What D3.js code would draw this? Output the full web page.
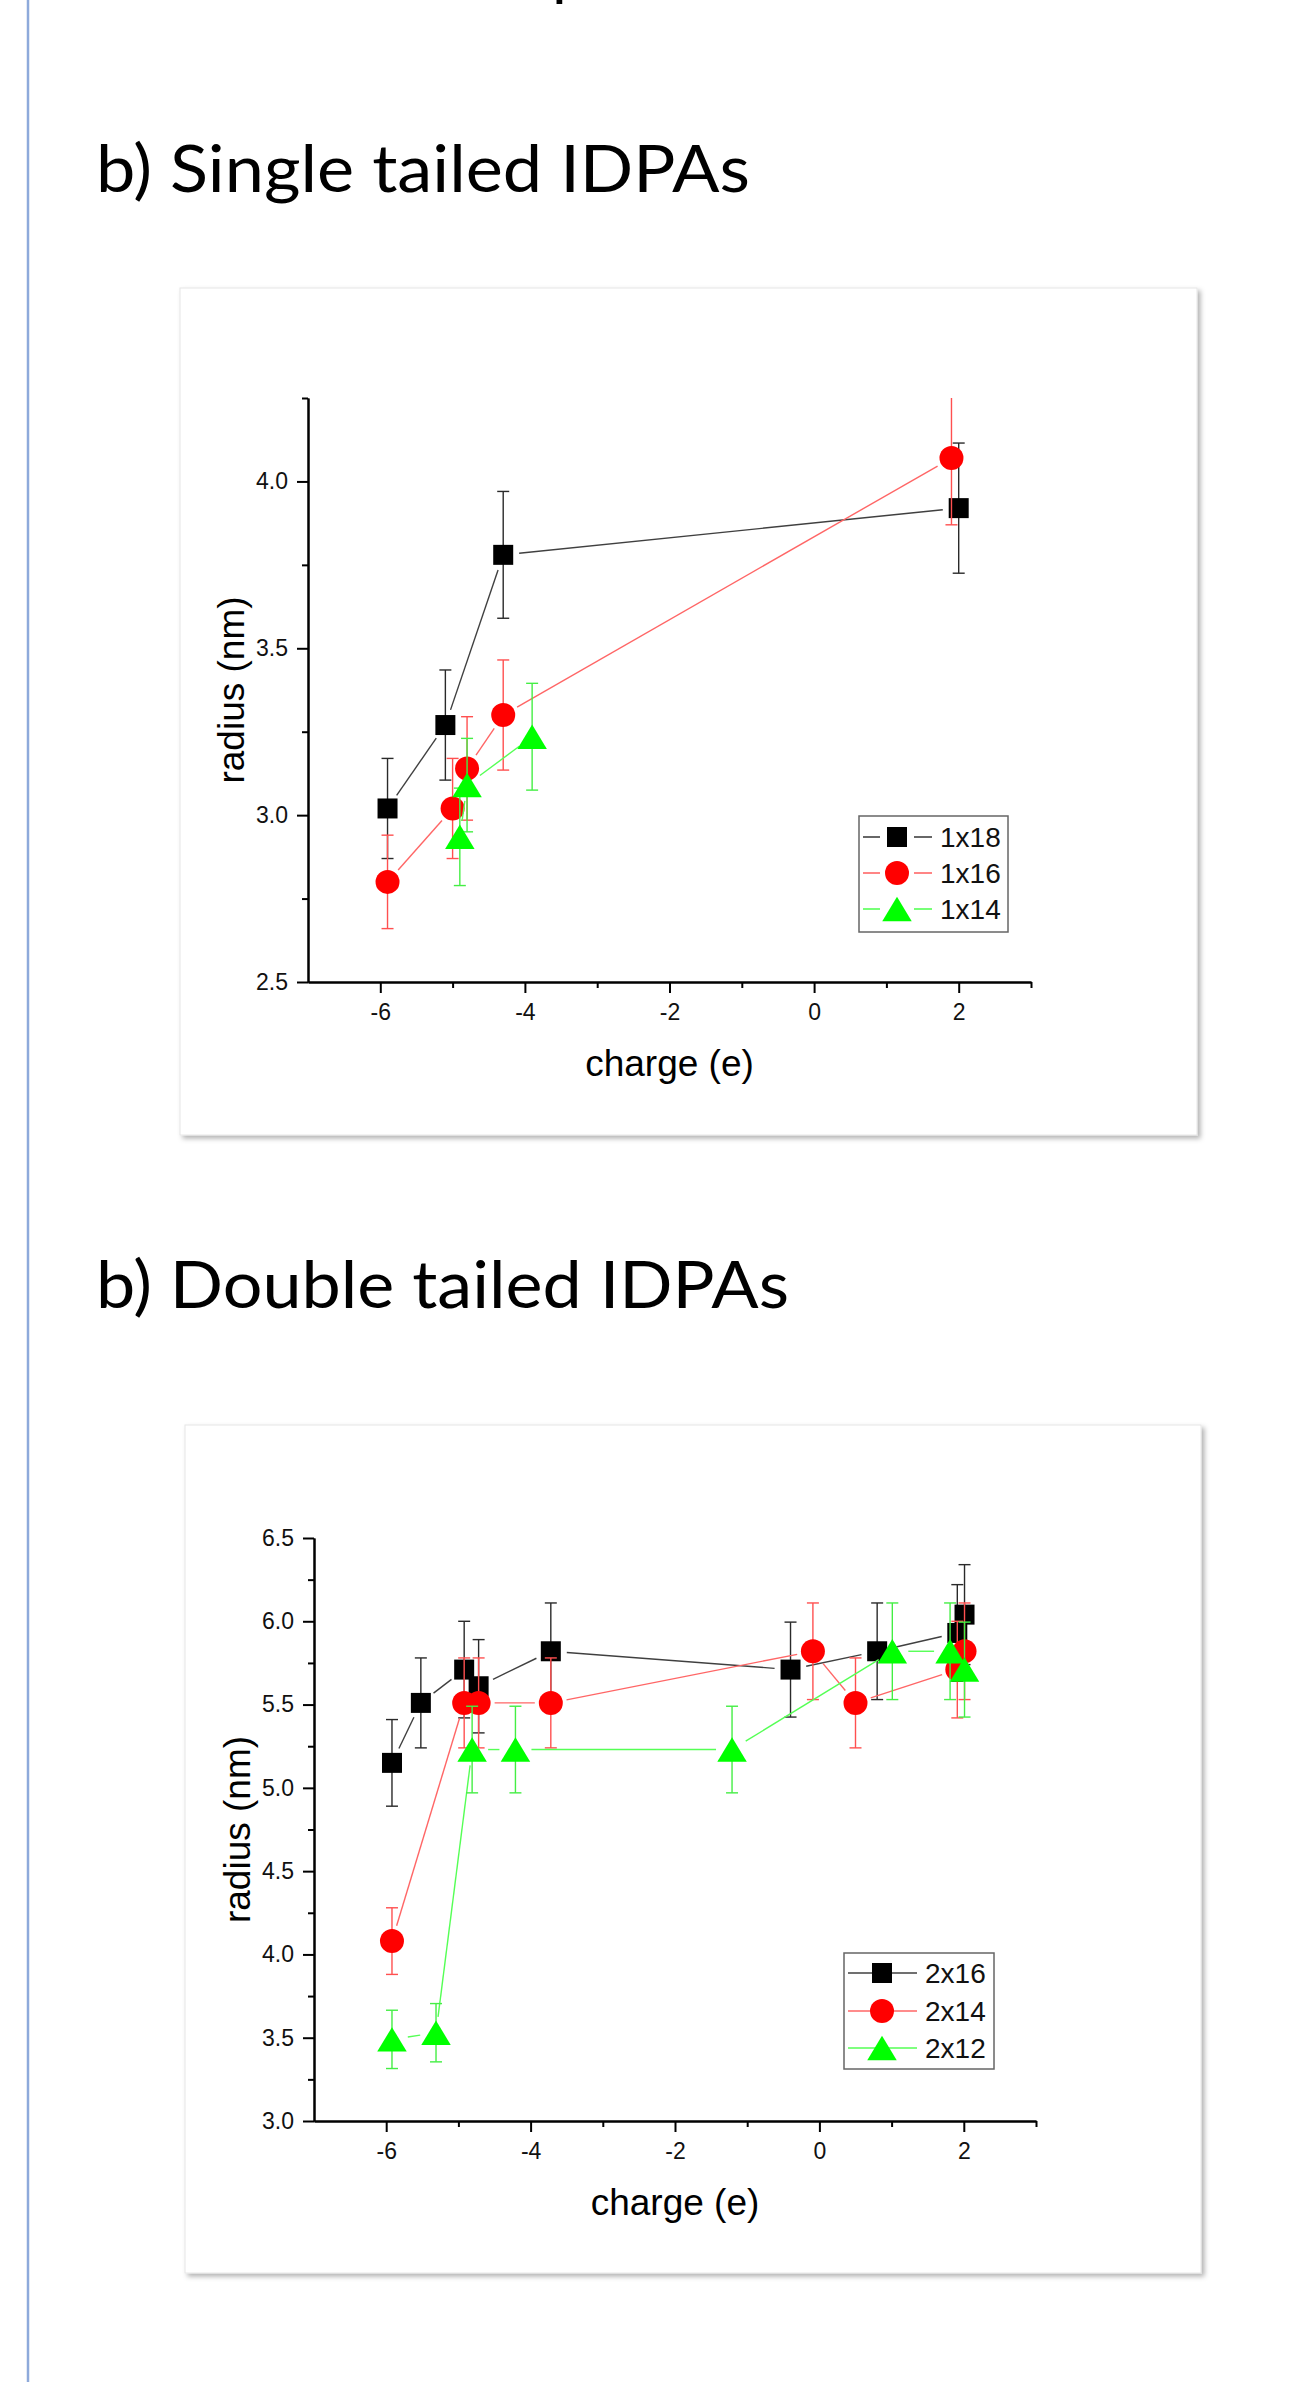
<!DOCTYPE html>
<html>
<head>
<meta charset="utf-8">
<script src="https://cdn.jsdelivr.net/npm/d3@7"></script>
<style>
  body { margin: 0; background: #fff; }
  svg { display: block; }
</style>
</head>
<body>
<svg id="page" width="1305" height="2382"></svg>
<script>
// ---- data: single tailed IDPAs ----
const s18Charge = [-5.9, -5.1, -4.3, 2.0];
const s18Radius = [3.02, 3.27, 3.78, 3.92];
const s18Err    = [0.15, 0.165, 0.19, 0.195];

const s16Charge = [-5.9, -5.0, -4.8, -4.3, 1.9];
const s16Radius = [2.80, 3.02, 3.14, 3.30, 4.07];
const s16Err    = [0.14, 0.15, 0.155, 0.165, 0.2];

const s14Charge = [-4.9, -4.8, -3.9];
const s14Radius = [2.935, 3.09, 3.235];
const s14Err    = [0.146, 0.14, 0.16];

// ---- data: double tailed IDPAs ----
const d16Charge = [-5.92, -5.52, -4.92, -4.72, -3.72, -0.40, 0.80, 1.91, 2.01];
const d16Radius = [5.15, 5.51, 5.71, 5.61, 5.82, 5.71, 5.82, 5.93, 6.04];
const d16Err    = [0.26, 0.27, 0.29, 0.28, 0.29, 0.285, 0.29, 0.29, 0.30];

const d14Charge = [-5.92, -4.92, -4.72, -3.72, -0.09, 0.50, 1.91, 2.01];
const d14Radius = [4.08, 5.51, 5.51, 5.51, 5.82, 5.51, 5.71, 5.82];
const d14Err    = [0.20, 0.27, 0.27, 0.27, 0.29, 0.27, 0.29, 0.29];

const d12Charge = [-5.92, -5.31, -4.81, -4.21, -1.21, 1.01, 1.81, 2.01];
const d12Radius = [3.49, 3.53, 5.23, 5.23, 5.23, 5.82, 5.82, 5.71];
const d12Err    = [0.175, 0.175, 0.26, 0.26, 0.26, 0.29, 0.29, 0.285];

// ---- ticks and labels ----
const xTicks = [-6, -4, -2, 0, 2];
const xMinorTicks = [-5, -3, -1, 1, 3];
const singleYTicks = [2.5, 3.0, 3.5, 4.0];
const singleYMinor = [2.75, 3.25, 3.75, 4.25];
const doubleYTicks = [3.0, 3.5, 4.0, 4.5, 5.0, 5.5, 6.0, 6.5];
const doubleYMinor = [3.25, 3.75, 4.25, 4.75, 5.25, 5.75, 6.25];
const singleNames = ["1x18", "1x16", "1x14"];
const doubleNames = ["2x16", "2x14", "2x12"];

const FONT = "'Liberation Sans', Arial, sans-serif";

// triangle centred on its bounding box (like Origin's), not its centroid
const symbolBoxTriangle = {
  draw(ctx, size) {
    const w = Math.sqrt(size), h = w * 0.83;
    ctx.moveTo(0, -h / 2);
    ctx.lineTo(w / 2, h / 2);
    ctx.lineTo(-w / 2, h / 2);
    ctx.closePath();
  }
};

const styles = [
  { fill: "#000000", line: "#404040", bar: "#2a2a2a", symbol: d3.symbolSquare, size: 400 },
  { fill: "#ff0000", line: "#ff6666", bar: "#ff5050", symbol: d3.symbolCircle, size: 452 },
  { fill: "#00ff00", line: "#55ff55", bar: "#44ee44", symbol: symbolBoxTriangle, size: 870 }
];

const GAP = 16;

/** Shortens each segment between neighbours so it stops short of the symbols. */
function gappedSegments(pts) {
  const segs = [];
  for (let i = 1; i < pts.length; i++) {
    const [x0, y0] = pts[i - 1], [x1, y1] = pts[i];
    const len = Math.hypot(x1 - x0, y1 - y0);
    if (len <= 2 * GAP) continue;
    const ux = (x1 - x0) / len, uy = (y1 - y0) / len;
    segs.push([[x0 + ux * GAP, y0 + uy * GAP], [x1 - ux * GAP, y1 - uy * GAP]]);
  }
  return segs;
}

/** One Origin-style panel: card, axes, error-bar series and legend. */
class Panel {
  constructor(svg, o) {
    this.svg = svg;
    this.o = o;
    this.g = svg.append("g");
    this.x = d3.scaleLinear().domain(o.xDomain).range([o.left, o.right]);
    this.y = d3.scaleLinear().domain(o.yDomain).range([o.bottom, o.top]);
  }

  drawCard() {
    const c = this.o.card;
    this.g.append("rect")
      .attr("x", c[0]).attr("y", c[1]).attr("width", c[2]).attr("height", c[3])
      .attr("fill", "#fff")
      .attr("stroke", "#e6e6e6")
      .attr("filter", "url(#shadow)");
  }

  drawAxes(yTicks, yMinor) {
    const o = this.o;
    const styleAxis = sel => {
      sel.select(".domain").attr("stroke", "#000").attr("stroke-width", 2);
      sel.selectAll(".tick line").attr("stroke", "#000").attr("stroke-width", 2);
      sel.selectAll("text").style("font", `23px ${FONT}`).attr("fill", "#111");
    };

    this.g.append("g").attr("transform", `translate(0,${o.bottom})`)
      .call(d3.axisBottom(this.x).tickValues(xMinorTicks).tickSize(6).tickSizeOuter(0).tickFormat(""))
      .call(styleAxis);
    this.g.append("g").attr("transform", `translate(0,${o.bottom})`)
      .call(d3.axisBottom(this.x).tickValues(xTicks).tickSize(11).tickPadding(11)
        .tickSizeOuter(0).tickFormat(d => String(d)))
      .call(styleAxis);

    this.g.append("g").attr("transform", `translate(${o.left},0)`)
      .call(d3.axisLeft(this.y).tickValues(yMinor).tickSize(6).tickSizeOuter(0).tickFormat(""))
      .call(styleAxis);
    this.g.append("g").attr("transform", `translate(${o.left},0)`)
      .call(d3.axisLeft(this.y).tickValues(yTicks).tickSize(11).tickPadding(9)
        .tickSizeOuter(0).tickFormat(d => d.toFixed(1)))
      .call(styleAxis);

    // axis titles
    this.g.append("text")
      .attr("x", (o.left + o.right) / 2).attr("y", o.bottom + 81)
      .attr("dy", "0.35em")
      .attr("text-anchor", "middle")
      .style("font", `37px ${FONT}`)
      .text("charge (e)");
    this.g.append("text")
      .attr("transform", `translate(${o.left - 77},${(o.top + o.bottom) / 2}) rotate(-90)`)
      .attr("dy", "0.35em")
      .attr("text-anchor", "middle")
      .style("font", `37px ${FONT}`)
      .text("radius (nm)");
  }

  drawSeries(seriesList) {
    const o = this.o;
    const clipId = "clip" + o.id;
    this.svg.select("defs").append("clipPath").attr("id", clipId)
      .append("rect")
      .attr("x", o.left).attr("y", o.top)
      .attr("width", o.right - o.left).attr("height", o.bottom - o.top);

    seriesList.forEach(s => {
      const pts = s.charge.map((c, i) => [this.x(c), this.y(s.radius[i])]);
      const rows = s.charge.map((c, i) => ({ c: c, r: s.radius[i], e: s.err[i] }));
      const layer = this.g.append("g");
      const clipped = layer.append("g").attr("clip-path", `url(#${clipId})`);

      // connecting line with gaps at the symbols
      clipped.selectAll("path.link")
        .data(gappedSegments(pts))
        .enter()
        .append("path")
        .attr("class", "link")
        .attr("d", d3.line())
        .attr("fill", "none")
        .attr("stroke", s.style.line)
        .attr("stroke-width", 1.4);

      // error bars
      const bars = clipped.selectAll("g.err")
        .data(rows)
        .enter()
        .append("g")
        .attr("class", "err")
        .attr("stroke", s.style.bar)
        .attr("stroke-width", 1.4);
      bars.append("line")
        .attr("x1", d => this.x(d.c)).attr("x2", d => this.x(d.c))
        .attr("y1", d => this.y(d.r + d.e)).attr("y2", d => this.y(d.r - d.e));
      [1, -1].forEach(sign => {
        bars.append("line")
          .attr("x1", d => this.x(d.c) - 6).attr("x2", d => this.x(d.c) + 6)
          .attr("y1", d => this.y(d.r + sign * d.e)).attr("y2", d => this.y(d.r + sign * d.e));
      });

      // symbols
      layer.selectAll("path.mark")
        .data(rows)
        .enter()
        .append("path")
        .attr("class", "mark")
        .attr("transform", d => `translate(${this.x(d.c)},${this.y(d.r)})`)
        .attr("d", d3.symbol().type(s.style.symbol).size(s.style.size))
        .attr("fill", s.style.fill);
    });
  }

  drawLegend(names, box, rowYs, gapped) {
    const lg = this.g.append("g");
    lg.append("rect")
      .attr("x", box[0]).attr("y", box[1]).attr("width", box[2]).attr("height", box[3])
      .attr("fill", "#fff").attr("stroke", "#666").attr("stroke-width", 1.5);

    const x0 = box[0] + 4, x1 = box[0] + 73, cx = box[0] + 38;
    names.forEach((name, i) => {
      const st = styles[i], y = rowYs[i];
      const segs = gapped ? [[x0, cx - 17], [cx + 17, x1]] : [[x0, x1]];
      segs.forEach(s => {
        lg.append("line").attr("x1", s[0]).attr("x2", s[1]).attr("y1", y).attr("y2", y)
          .attr("stroke", st.line).attr("stroke-width", 1.6);
      });
      lg.append("path")
        .attr("transform", `translate(${cx},${y})`)
        .attr("d", d3.symbol().type(st.symbol).size(st.size))
        .attr("fill", st.fill);
      lg.append("text")
        .attr("x", box[0] + 81).attr("y", y).attr("dy", "0.36em")
        .style("font", `28px ${FONT}`).attr("fill", "#111")
        .text(name);
    });
  }
}

const svg = d3.select("#page");
const defs = svg.append("defs");
const shadow = defs.append("filter").attr("id", "shadow")
  .attr("x", "-5%").attr("y", "-5%").attr("width", "110%").attr("height", "110%");
shadow.append("feDropShadow")
  .attr("dx", 3).attr("dy", 3).attr("stdDeviation", 2.5)
  .attr("flood-color", "#000").attr("flood-opacity", 0.3);

// page margin rule and the cut-off letter at the very top
svg.append("line").attr("x1", 28).attr("x2", 28).attr("y1", 0).attr("y2", 2382)
  .attr("stroke", "#8eaadb").attr("stroke-width", 2.5);
svg.append("text").attr("x", 552).attr("y", -7)
  .style("font", "64px Lato, sans-serif").text("p");

// section headings
const headings = [
  { text: "b) Single tailed IDPAs", y: 192, len: 654 },
  { text: "b) Double tailed IDPAs", y: 1308, len: 693 }
];
svg.selectAll("text.heading")
  .data(headings)
  .enter()
  .append("text")
  .attr("class", "heading")
  .attr("x", 96)
  .attr("y", d => d.y)
  .attr("textLength", d => d.len)
  .attr("lengthAdjust", "spacingAndGlyphs")
  .style("font", "400 66px Lato, 'DejaVu Sans', sans-serif")
  .attr("fill", "#000")
  .text(d => d.text);

// top panel: single tailed
const single = new Panel(svg, {
  id: "single", card: [180, 288, 1017, 847],
  left: 308, right: 1031, top: 398, bottom: 982,
  xDomain: [-7, 3], yDomain: [2.5, 4.25]
});
single.drawCard();
single.drawAxes(singleYTicks, singleYMinor);
single.drawSeries([
  { charge: s18Charge, radius: s18Radius, err: s18Err, style: styles[0] },
  { charge: s16Charge, radius: s16Radius, err: s16Err, style: styles[1] },
  { charge: s14Charge, radius: s14Radius, err: s14Err, style: styles[2] }
]);
single.drawLegend(singleNames, [859, 816, 149, 116], [837, 873, 909], true);

// bottom panel: double tailed
const double = new Panel(svg, {
  id: "double", card: [185, 1425, 1016, 848],
  left: 314, right: 1036, top: 1538, bottom: 2121,
  xDomain: [-7, 3], yDomain: [3.0, 6.5]
});
double.drawCard();
double.drawAxes(doubleYTicks, doubleYMinor);
double.drawSeries([
  { charge: d16Charge, radius: d16Radius, err: d16Err, style: styles[0] },
  { charge: d14Charge, radius: d14Radius, err: d14Err, style: styles[1] },
  { charge: d12Charge, radius: d12Radius, err: d12Err, style: styles[2] }
]);
double.drawLegend(doubleNames, [844, 1953, 150, 116], [1973, 2011, 2048], false);
</script>
</body>
</html>
